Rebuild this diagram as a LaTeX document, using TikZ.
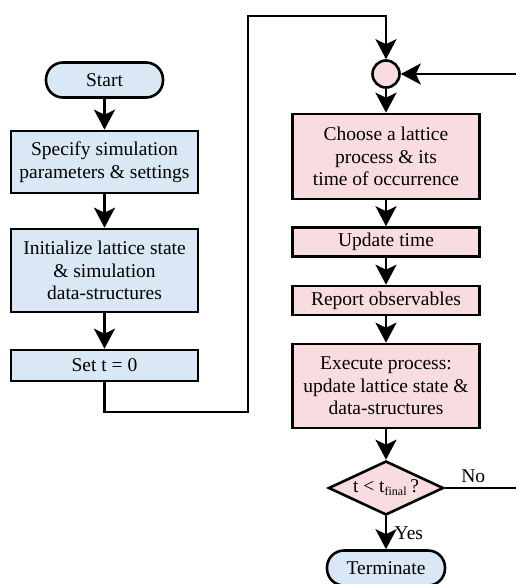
\documentclass[tikz,border=0pt]{standalone}
\usepackage{fontspec}
\setmainfont{Liberation Serif}
\usetikzlibrary{arrows.meta,shapes.geometric}

\definecolor{setupblue}{RGB}{218,232,245}
\definecolor{looppink}{RGB}{249,220,223}

\begin{document}
\begin{tikzpicture}[x=1pt, y=-1pt, >={Stealth[length=20pt,width=21pt,inset=5pt]},
    every node/.style={font=\fontsize{19.5}{22.5}\selectfont, align=center},
    flow/.style={line width=2.6pt},
    stepbox/.style={draw, line width=2.6pt, rectangle, minimum width=187pt, inner sep=2pt},
    setupbox/.style={stepbox, fill=setupblue},
    loopbox/.style={stepbox, fill=looppink},
    terminal/.style={draw, line width=2.6pt, fill=setupblue, rounded corners=17pt,
        minimum width=117pt, minimum height=35pt},
    junction/.style={draw, line width=2.6pt, fill=looppink, circle, minimum size=27pt, inner sep=0pt},
    decision/.style={draw, line width=2.6pt, fill=looppink, diamond, aspect=2.1,
        minimum width=115pt, minimum height=54pt, inner sep=0pt}]
    \useasboundingbox (0,0) rectangle (516,584);

    % set-up column
    \node[terminal] (start) at (104.5,80) {Start};
    \node[setupbox, minimum height=62pt] (specify) at (104.5,162) {Specify simulation\\parameters \& settings};
    \node[setupbox, minimum height=83pt] (init) at (104.5,270.5) {Initialize lattice state\\\& simulation\\data-structures};
    \node[setupbox, minimum height=31pt] (sett) at (104.5,365.5) {Set t = 0};

    % main loop column
    \node[junction] (join) at (386,74) {};
    \node[loopbox, minimum height=85pt] (choose) at (386,156.5) {Choose a lattice\\process \& its\\time of occurrence};
    \node[loopbox, minimum height=29pt] (update) at (386,242) {Update time};
    \node[loopbox, minimum height=29pt] (report) at (386,300.5) {Report observables};
    \node[loopbox, minimum height=84pt] (execute) at (386,386) {Execute process:\\update lattice state \&\\data-structures};
    \node[decision] (check) at (386,488) {t < t\textsubscript{\fontsize{12}{12}\selectfont final}\,?};
    \node[terminal, minimum width=118pt] (terminate) at (386,568) {Terminate};

    \coordinate (lowturn) at (248,412);
    \coordinate (topturn) at (248,16);
    \coordinate (backin) at (516,74);
    \coordinate (noout) at (516,488);

    \draw[->, flow] (start) -- (specify);
    \draw[->, flow] (specify) -- (init);
    \draw[->, flow] (init) -- (sett);
    \draw[->, flow] (sett.south) |- (lowturn) -- (topturn) -| (join.north);
    \draw[->, flow] (backin) -- (join.east);
    \draw[->, flow] (join) -- (choose);
    \draw[->, flow] (choose) -- (update);
    \draw[->, flow] (update) -- (report);
    \draw[->, flow] (report) -- (execute);
    \draw[->, flow] (execute) -- (check);
    \draw[flow] (check.east) -- (noout)
        node[pos=0.4, above=1pt] {No};
    \draw[->, flow] (check) -- (terminate)
        node[midway, right=4pt] {Yes};
\end{tikzpicture}
\end{document}
